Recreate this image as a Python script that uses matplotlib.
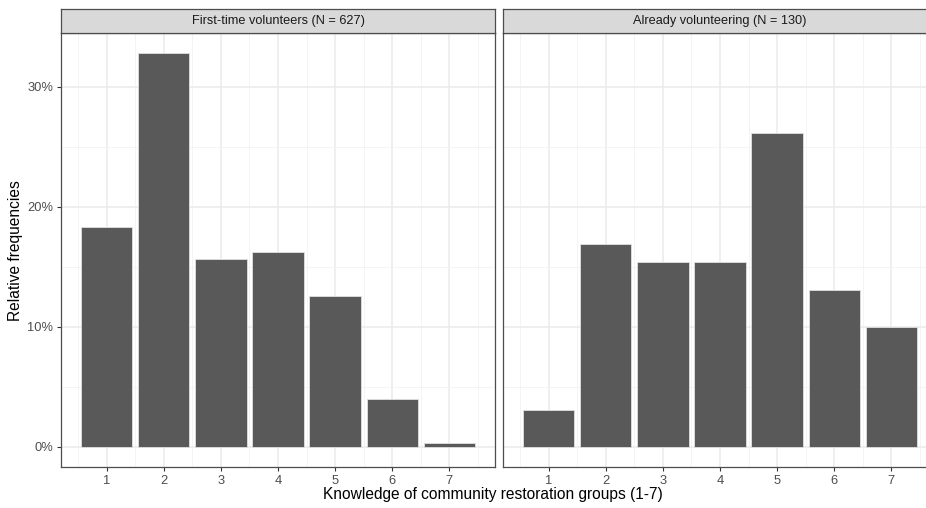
import matplotlib
matplotlib.use("Agg")
import matplotlib.pyplot as plt
from matplotlib.ticker import FuncFormatter, MultipleLocator
import numpy as np

plt.rcParams['font.family'] = ['Liberation Sans', 'DejaVu Sans']

levels = [1, 2, 3, 4, 5, 6, 7]
panel_titles = ["First-time volunteers (N = 627)", "Already volunteering (N = 130)"]
first_time_counts = [115, 206, 98, 102, 79, 25, 2]
already_counts = [4, 22, 20, 20, 34, 17, 13]
y_ticks = [0.0, 0.1, 0.2, 0.3]
x_label = "Knowledge of community restoration groups (1-7)"
y_label = "Relative frequencies"

W, H = 926, 508
fig = plt.figure(figsize=(W / 100, H / 100), dpi=100)

def fx(px):
    return px / W

def fy(py):
    return (H - py) / H

panel_top, panel_bot = 33.0, 466.7
strip_top = 9.0
panel_w = 433.4
lefts = [61.3, 503.3]

border = '#4d4d4d'
grid_major = '#EBEBEB'

series = [first_time_counts, already_counts]
for i, (counts, title) in enumerate(zip(series, panel_titles)):
    counts = np.array(counts, dtype=float)
    rel = counts / counts.sum()
    ax = fig.add_axes([fx(lefts[i]), fy(panel_bot), panel_w / W, (panel_bot - panel_top) / H])
    ax.bar(levels, rel, width=0.9, color='#595959', edgecolor='#e0e0e0', linewidth=0.6, zorder=3)
    ax.set_xlim(0.205, 7.795)
    ax.set_ylim(-0.01643, 0.3450)
    ax.set_xticks(levels)
    ax.xaxis.set_minor_locator(MultipleLocator(1, offset=0.5))
    ax.set_yticks(y_ticks)
    ax.yaxis.set_minor_locator(MultipleLocator(0.1, offset=0.05))
    ax.yaxis.set_major_formatter(FuncFormatter(lambda v, p: f"{v*100:.0f}%"))
    ax.grid(which='major', color=grid_major, linewidth=1.1, zorder=0)
    ax.grid(which='minor', color='#F2F2F2', linewidth=0.6, zorder=0)
    ax.set_axisbelow(True)
    for s in ax.spines.values():
        s.set_color(border)
        s.set_linewidth(0.9)
    ax.tick_params(axis='both', which='major', length=3, width=0.8, color='#333333',
                   labelsize=9.3, labelcolor='#4D4D4D', pad=3)
    ax.tick_params(which='minor', length=0)
    if i == 1:
        ax.tick_params(axis='y', left=False, labelleft=False)
    # strip
    sax = fig.add_axes([fx(lefts[i]), fy(panel_top), panel_w / W, (panel_top - strip_top) / H])
    sax.set_facecolor('#D9D9D9')
    sax.set_xticks([])
    sax.set_yticks([])
    for s in sax.spines.values():
        s.set_color(border)
        s.set_linewidth(0.9)
    sax.text(0.5, 0.5, title, ha='center', va='center', fontsize=9.2, color='#1A1A1A',
             transform=sax.transAxes)

fig.text(fx(493), fy(495), x_label, ha='center', va='center', fontsize=11.2, color='black')
fig.text(fx(16), fy(251), y_label, ha='center', va='center', rotation=90, fontsize=11.2, color='black')

fig.savefig('out.png', dpi=100, facecolor='white')
